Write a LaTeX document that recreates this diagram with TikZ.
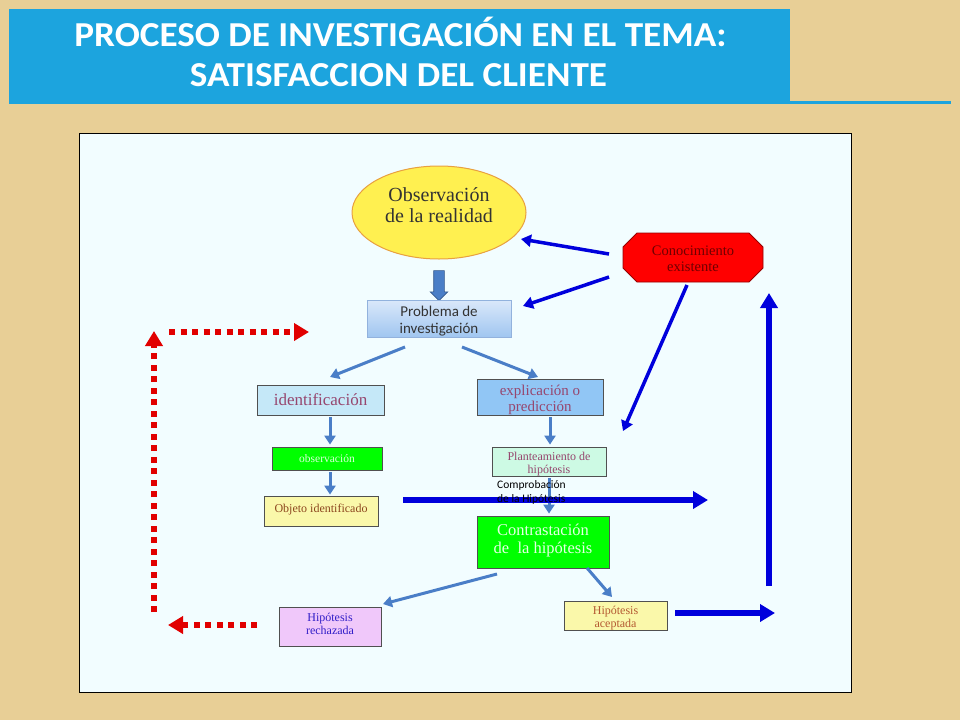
\documentclass[tikz,border=0pt]{standalone}
\usepackage{fontspec}
\setmainfont{Liberation Serif}
\newfontfamily\calibri{Carlito}
\usetikzlibrary{arrows.meta,shapes.arrows,shapes.geometric}
\definecolor{tanbg}{RGB}{232,207,150}
\definecolor{titleblue}{RGB}{28,164,222}
\definecolor{panel}{RGB}{242,253,255}
\definecolor{steel}{RGB}{74,126,199}
\definecolor{dblue}{RGB}{0,0,220}
\definecolor{dred}{RGB}{225,0,0}
\definecolor{ellfill}{RGB}{255,240,80}
\definecolor{ellborder}{RGB}{232,160,64}
\definecolor{purptxt}{RGB}{150,70,110}
\definecolor{browntxt}{RGB}{140,70,30}
\definecolor{idfill}{RGB}{197,232,248}
\definecolor{expfill}{RGB}{145,198,245}
\definecolor{objfill}{RGB}{250,248,170}
\definecolor{planfill}{RGB}{205,250,228}
\definecolor{rechfill}{RGB}{240,200,250}
\definecolor{boxline}{RGB}{80,80,80}
\definecolor{probbot}{RGB}{160,198,240}
\definecolor{probtop}{RGB}{218,232,250}
\definecolor{rechtxt}{RGB}{50,30,200}
\definecolor{aceptxt}{RGB}{180,90,50}
\definecolor{conocline}{RGB}{150,0,0}
\definecolor{conoctxt}{RGB}{110,0,0}
\newcommand{\mvtext}[2]{\raisebox{#1}[\height][\depth]{\begin{tabular}{@{}c@{}}#2\end{tabular}}}
\tikzset{
  fsz/.style 2 args={font=\fontsize{#1}{#2}\selectfont},
  box/.style={draw=boxline, line width=0.8pt, inner sep=0pt, align=center},
  sarrow/.style={-{Triangle[length=9pt,width=11pt]}, steel, line width=3pt},
  barrow/.style={-{Triangle[length=10pt,width=12pt]}, dblue, line width=3.5pt},
  bigarrow/.style={-{Triangle[length=15pt,width=17pt]}, dblue, line width=5.5pt},
  rhead/.style={-{Triangle[length=15pt,width=17pt]}, dred, line width=5.5pt, dash pattern=on 6pt off 5.5pt},
  titletext/.style={text=white, font=\calibri\bfseries\fontsize{35}{40}\selectfont, anchor=base, inner sep=0pt},
}
\begin{document}
\begin{tikzpicture}[x=1pt,y=-1pt]
\useasboundingbox (0,0) rectangle (960,720);
\fill[tanbg] (0,0) rectangle (960,720);
% title
\fill[titleblue] (9,9) rectangle (790,104);
\fill[titleblue] (790,100.5) rectangle (951,104);
\node[titletext] (title1) at (400.5,46) {\scalebox{1.062}[1]{PROCESO DE INVESTIGACIÓN EN EL TEMA:}};
\node[titletext] (title2) at (398.5,86.5) {\scalebox{1.062}[1]{SATISFACCION DEL CLIENTE}};
% panel
\draw[fill=panel, draw=black, line width=0.8pt] (79,133) rectangle (851,692);
% octagon outline for "Conocimiento existente"
\coordinate (oc) at (693,257.5);
\draw[fill=red, draw=conocline, line width=0.8pt]
  ([shift={(-56,-24.5)}]oc) -- ([shift={(56,-24.5)}]oc) -- ([shift={(70,-10.5)}]oc) -- ([shift={(70,10.5)}]oc)
  -- ([shift={(56,24.5)}]oc) -- ([shift={(-56,24.5)}]oc) -- ([shift={(-70,10.5)}]oc) -- ([shift={(-70,-10.5)}]oc) -- cycle;
% nodes
\node[ellipse, draw=ellborder, line width=1pt, fill=ellfill, minimum width=174pt, minimum height=93pt, inner sep=0pt, align=center, fsz={20}{21}, text=black!80] (obs) at (439,212.5) {\mvtext{5pt}{Observación\\de la realidad}};
\node[single arrow, draw=steel!70!black, fill=steel, line width=0.6pt, minimum height=30pt, minimum width=17pt, inner sep=5pt, single arrow head extend=3.5pt, shape border rotate=270] (blk) at (439,283) {};
\node[box, draw=steel!60, top color=probtop, bottom color=probbot, minimum width=144pt, minimum height=37pt, font=\calibri\fontsize{15}{16.5}\selectfont, text=black!80] (prob) at (439,318.5) {\mvtext{-3pt}{Problema de\\investigación}};
\node[box, fill=idfill, minimum width=127pt, minimum height=30pt, fsz={17}{19}, text=purptxt] (ident) at (320.5,400) {identificación};
\node[box, fill=expfill, minimum width=126pt, minimum height=36pt, fsz={15}{16.5}, text=purptxt] (expl) at (540,397) {\mvtext{-3pt}{explicación o\\predicción}};
\node[box, fill=green, minimum width=110pt, minimum height=23pt, fsz={11.5}{13}, text=green!15!white] (obsv) at (327,458.5) {observación};
\node[box, fill=objfill, minimum width=114pt, minimum height=30pt, fsz={12}{14}, text=browntxt] (objid) at (321,511) {\mvtext{1.5pt}{Objeto identificado}};
\node[box, fill=planfill, minimum width=114pt, minimum height=29pt, fsz={12}{13}, text=purptxt] (plan) at (549,461.5) {\mvtext{-3pt}{Planteamiento de\\hipótesis}};
\node[box, fill=green, minimum width=132pt, minimum height=52pt, fsz={16.5}{18.5}, text=green!10!white] (contr) at (543,542) {\mvtext{1pt}{Contrastación\\de\ \ la hipótesis}};
\node[box, fill=rechfill, minimum width=102pt, minimum height=39pt, fsz={12}{13}, text=rechtxt] (rech) at (330,626.5) {\mvtext{1pt}{Hipótesis\\rechazada}};
\node[box, fill=objfill, minimum width=103pt, minimum height=29pt, fsz={12}{12.5}, text=aceptxt] (acep) at (615.5,615.5) {\mvtext{-3pt}{Hipótesis\\aceptada}};
\node[minimum width=140pt, minimum height=49pt, inner sep=0pt, align=center, fsz={14.5}{16}, text=conoctxt] (conoc) at (oc) {\mvtext{-3pt}{Conocimiento\\existente}};
% free-end coordinates
\coordinate (p1) at (405,347); \coordinate (p1e) at (330,377);
\coordinate (p2) at (462,347); \coordinate (p2e) at (538,377);
\coordinate (c1) at (609,254); \coordinate (c1e) at (521,239);
\coordinate (c2) at (609,277); \coordinate (c2e) at (523,306);
\coordinate (c3) at (687,285); \coordinate (c3e) at (623,431);
\coordinate (h1) at (403,500); \coordinate (h1e) at (708,500);
\coordinate (k1) at (497,574); \coordinate (k1e) at (383,604);
\coordinate (k2) at (587,568); \coordinate (k2e) at (612,597);
\coordinate (a1) at (675,613); \coordinate (a1e) at (775,613);
\coordinate (u1) at (769,586); \coordinate (u1e) at (769,293);
\coordinate (rv1) at (154,612); \coordinate (rv1e) at (154,331);
\coordinate (rt1) at (169,332); \coordinate (rt1e) at (309,332);
\coordinate (rb1) at (257,625); \coordinate (rb1e) at (168,625);
% connectors
\draw[sarrow] (p1) -- (p1e);
\draw[sarrow] (p2) -- (p2e);
\draw[sarrow, shorten <=2pt, shorten >=2pt] ([xshift=9.5pt]ident.south) -- ([xshift=9.5pt]ident.south |- obsv.north);
\draw[sarrow, shorten <=2pt, shorten >=1pt] ([xshift=3pt]obsv.south) -- ([xshift=3pt]obsv.south |- objid.north);
\draw[sarrow, shorten <=2pt, shorten >=2pt] ([xshift=10pt]expl.south) -- ([xshift=10pt]expl.south |- plan.north);
\draw[sarrow, shorten <=2pt, shorten >=2pt] (plan.south) -- (plan.south |- contr.north);
\draw[sarrow] (k1) -- (k1e);
\draw[sarrow] (k2) -- (k2e);
\draw[barrow] (c1) -- (c1e);
\draw[barrow] (c2) -- (c2e);
\draw[barrow] (c3) -- (c3e);
\draw[bigarrow] (h1) -- (h1e);
\node[anchor=north west, align=left, inner sep=0pt, font=\calibri\fontsize{11.5}{14}\selectfont, text=black] (compr) at (497,480) {Comprobación\\de la Hipótesis};
\draw[bigarrow] (a1) -- (a1e);
\draw[bigarrow] (u1) -- (u1e);
\draw[rhead] (rv1) -- (rv1e);
\draw[rhead] (rt1) -- (rt1e);
\draw[rhead] (rb1) -- (rb1e);
\end{tikzpicture}
\end{document}
